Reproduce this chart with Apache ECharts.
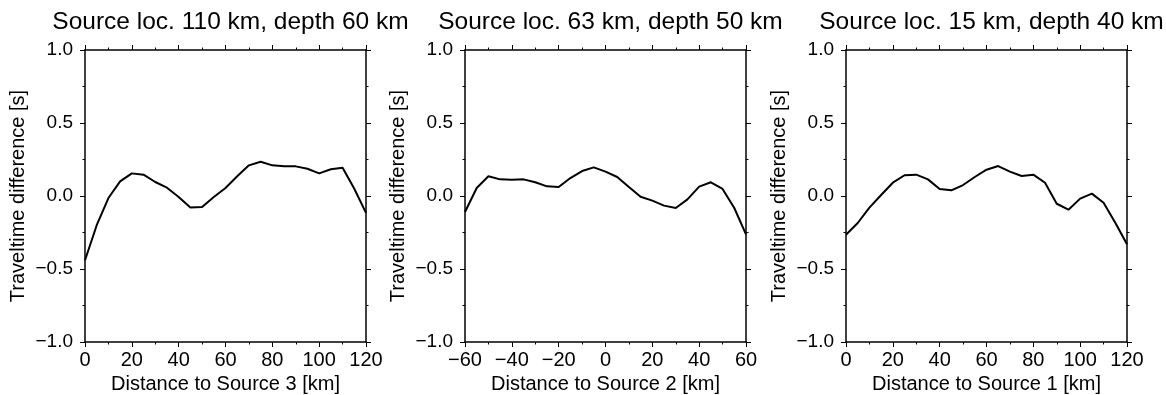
<!DOCTYPE html>
<html><head><meta charset="utf-8">
<script src="https://cdn.jsdelivr.net/npm/echarts@6/dist/echarts.min.js"></script>
<style>html,body{margin:0;padding:0;background:#fff}#c{width:1166px;height:395px}</style>
</head><body><div id="c"></div>
<script>
const titles = ["Source loc. 110 km, depth 60 km", "Source loc. 63 km, depth 50 km", "Source loc. 15 km, depth 40 km"];
const xLabels = ["Distance to Source 3 [km]", "Distance to Source 2 [km]", "Distance to Source 1 [km]"];
const yLabel = "Traveltime difference [s]";
const xRanges = [[0, 120], [-60, 60], [0, 120]];

const dist3 = [0,5,10,15,20,25,30,35,40,45,50,55,60,65,70,75,80,85,90,95,100,105,110,115,120];
const diff3 = [-0.44,-0.20,-0.014,0.10,0.155,0.146,0.096,0.057,-0.007,-0.078,-0.075,-0.007,0.055,0.135,0.21,0.235,0.21,0.203,0.203,0.187,0.155,0.183,0.194,0.05,-0.116];

const dist2 = [-60,-55,-50,-45,-40,-35,-30,-25,-20,-15,-10,-5,0,5,10,15,20,25,30,35,40,45,50,55,60];
const diff2 = [-0.11,0.055,0.135,0.114,0.112,0.114,0.094,0.066,0.062,0.123,0.171,0.196,0.167,0.13,0.062,-0.005,-0.032,-0.066,-0.082,-0.023,0.064,0.094,0.048,-0.082,-0.263];

const dist1 = [0,5,10,15,20,25,30,35,40,45,50,55,60,65,70,75,80,85,90,95,100,105,110,115,120];
const diff1 = [-0.265,-0.185,-0.08,0.007,0.091,0.142,0.146,0.114,0.048,0.039,0.075,0.13,0.18,0.205,0.167,0.137,0.146,0.091,-0.053,-0.094,-0.018,0.016,-0.046,-0.183,-0.33];

const panels = [[dist3, diff3], [dist2, diff2], [dist1, diff1]];
const lefts = [85, 465, 846];
const W = 281, TOP = 50, H = 292;
const FONT = 'Liberation Sans, Arial, Helvetica, sans-serif';
const minus = s => String(s).replace('-', '\u2212');

const grids = [], xAxes = [], yAxes = [], series = [], title = [];
panels.forEach((p, i) => {
  grids.push({left: lefts[i], top: TOP, width: W, height: H, containLabel: false, outerBoundsMode: 'none'});
  const line = {show: true, onZero: false, lineStyle: {color: '#000', width: 1.5}};
  const tick = {show: true, inside: false, length: 5, lineStyle: {color: '#000', width: 1}};
  const minor = {show: true, splitNumber: 2, length: 2.5, lineStyle: {color: '#000', width: 1}};
  const common = {type: 'value', gridIndex: i, min: xRanges[i][0], max: xRanges[i][1], interval: 20,
    axisLine: line, axisTick: tick, minorTick: minor, splitLine: {show: false}};
  xAxes.push(Object.assign({}, common, {position: 'bottom',
    name: xLabels[i], nameLocation: 'middle', nameGap: 31,
    nameTextStyle: {fontFamily: FONT, fontSize: 20, color: '#000'},
    axisLabel: {show: true, color: '#000', fontFamily: FONT, fontSize: 20, margin: 8, formatter: v => minus(v)}}));
  xAxes.push(Object.assign({}, common, {position: 'top', axisLabel: {show: false}}));
  const ycommon = {type: 'value', gridIndex: i, min: -1, max: 1, interval: 0.5,
    axisLine: line, axisTick: tick, minorTick: minor, splitLine: {show: false}};
  yAxes.push(Object.assign({}, ycommon, {position: 'left',
    name: yLabel, nameLocation: 'middle', nameGap: 57, nameRotate: 90,
    nameTextStyle: {fontFamily: FONT, fontSize: 20, color: '#000'},
    axisLabel: {show: true, color: '#000', fontFamily: FONT, fontSize: 19, margin: 12, formatter: v => minus(v.toFixed(1))}}));
  yAxes.push(Object.assign({}, ycommon, {position: 'right', axisLabel: {show: false}}));
  series.push({type: 'line', xAxisIndex: 2 * i, yAxisIndex: 2 * i, symbol: 'none',
    data: p[0].map((x, k) => [x, p[1][k]]),
    lineStyle: {color: '#000', width: 2}, animation: false});
  title.push({text: titles[i], left: lefts[i] + W / 2, top: 5, textAlign: 'center',
    textStyle: {fontFamily: FONT, fontSize: 24.5, fontWeight: 'normal', color: '#000'}});
});

const chart = echarts.init(document.getElementById('c'), null, {renderer: 'canvas'});
chart.setOption({animation: false, backgroundColor: '#fff', title, grid: grids, xAxis: xAxes, yAxis: yAxes, series});
</script></body></html>
